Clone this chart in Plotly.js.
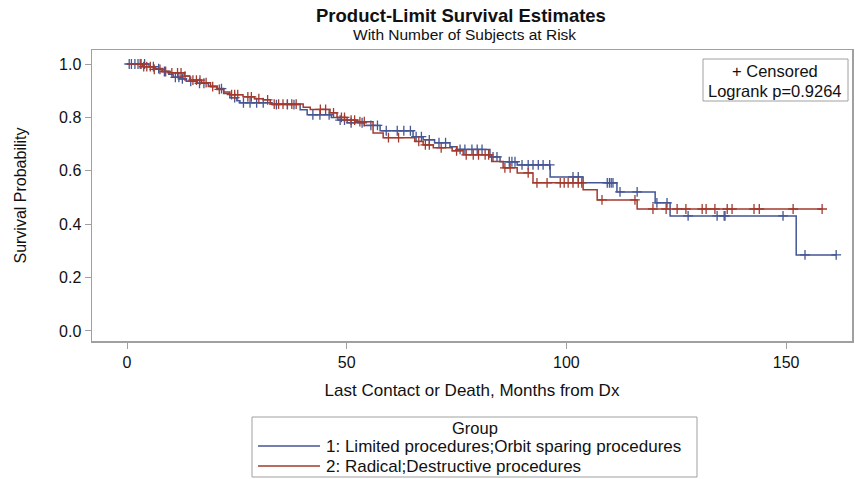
<!DOCTYPE html>
<html>
<head>
<meta charset="utf-8">
<script src="https://cdn.plot.ly/plotly-3.0.1.min.js"></script>
<style>
html,body{margin:0;padding:0;background:#fff;}
#chart{width:855px;height:479px;}
</style>
</head>
<body>
<div id="chart"></div>
<script>
// Group 1: Limited procedures;Orbit sparing procedures
const group1Times = [0, 5.0, 6.5, 8.0, 9.5, 10.5, 12.0, 13.5, 16.0, 18.5, 20.5, 22.0, 23.4, 25.0, 25.7, 33.0, 39.4, 41.0, 46.5, 48.0, 50.1, 54.0, 57.6, 65.1, 67.4, 70.0, 73.5, 75.1, 82.6, 84.9, 88.8, 96.3, 103.8, 111.5, 120.2, 123.6, 152.3];
const group1Surv  = [1.0, 0.99, 0.983, 0.972, 0.962, 0.95, 0.944, 0.935, 0.928, 0.918, 0.908, 0.89, 0.874, 0.862, 0.855, 0.848, 0.829, 0.81, 0.80, 0.79, 0.78, 0.77, 0.75, 0.728, 0.716, 0.705, 0.69, 0.68, 0.652, 0.634, 0.622, 0.577, 0.555, 0.521, 0.48, 0.431, 0.285];
const group1Censored = [0.5, 1.0, 1.8, 2.5, 3.2, 4.0, 6.0, 7.2, 8.5, 11.0, 11.8, 12.6, 14.5, 16.5, 17.5, 21.5, 24.5, 26.5, 28.0, 29.5, 31.0, 34.0, 36.5, 38.0, 42.3, 43.9, 46.0, 48.5, 49.5, 51.0, 53.5, 55.5, 57.0, 59.0, 61.5, 63.0, 64.5, 65.8, 67.0, 68.8, 71.0, 72.5, 75.8, 76.9, 78.5, 79.7, 80.8, 83.3, 84.2, 87.0, 87.6, 88.3, 89.9, 91.3, 92.4, 93.6, 94.7, 96.2, 101.5, 102.7, 109.3, 109.8, 110.2, 110.6, 112.2, 116.1, 120.6, 122.9, 127.7, 134.3, 135.9, 136.1, 149.3, 154.3, 161.4];

// Group 2: Radical;Destructive procedures
const group2Times = [0, 3.5, 6.0, 8.0, 9.8, 13.0, 14.3, 17.0, 19.0, 20.5, 22.0, 23.4, 26.4, 29.0, 31.0, 32.6, 40.1, 41.7, 46.2, 47.8, 50.1, 52.4, 56.0, 58.3, 65.5, 67.4, 69.7, 74.0, 76.5, 83.0, 85.6, 88.8, 92.4, 103.8, 107.0, 116.1];
const group2Surv  = [1.0, 0.99, 0.98, 0.972, 0.967, 0.955, 0.94, 0.93, 0.915, 0.905, 0.895, 0.885, 0.877, 0.87, 0.866, 0.85, 0.838, 0.83, 0.817, 0.80, 0.79, 0.784, 0.742, 0.724, 0.71, 0.697, 0.686, 0.675, 0.66, 0.635, 0.611, 0.592, 0.555, 0.529, 0.491, 0.457];
const group2Censored = [3.0, 3.8, 4.5, 5.3, 6.2, 7.5, 8.8, 10.2, 11.5, 12.3, 13.2, 15.0, 15.8, 16.6, 18.0, 19.5, 21.0, 23.8, 24.5, 25.2, 27.5, 28.3, 30.0, 32.0, 33.5, 34.5, 35.5, 36.5, 37.5, 38.5, 44.0, 45.2, 47.0, 48.8, 49.5, 51.0, 51.8, 53.0, 54.0, 59.5, 61.8, 66.4, 67.9, 68.8, 71.5, 75.0, 77.2, 78.8, 80.0, 81.5, 82.3, 86.0, 87.2, 91.3, 93.3, 95.6, 98.6, 99.5, 100.4, 101.5, 102.7, 103.5, 108.1, 115.6, 119.7, 122.7, 125.2, 127.2, 130.9, 131.8, 133.8, 136.6, 137.7, 142.7, 143.9, 151.6, 158.2];

const groupNames = ["1: Limited procedures;Orbit sparing procedures", "2: Radical;Destructive procedures"];
const groupColors = ["#445694", "#A23A2E"];
const yTicks = [0.0, 0.2, 0.4, 0.6, 0.8, 1.0];
const xTicks = [0, 50, 100, 150];

function survAt(times, surv, t) {
  let s = 1;
  for (let i = 0; i < times.length; i++) { if (times[i] <= t) s = surv[i]; }
  return s;
}
function curve(times, surv, cens, name, color) {
  const last = cens[cens.length - 1];
  const xs = times.slice(), ys = surv.slice();
  if (last > xs[xs.length - 1]) { xs.push(last); ys.push(ys[ys.length - 1]); }
  return [
    {x: xs, y: ys, type: 'scatter', mode: 'lines', line: {shape: 'hv', color: color, width: 1.5},
     name: name, showlegend: false, hoverinfo: 'skip'},
    {x: cens, y: cens.map(t => survAt(times, surv, t)), type: 'scatter', mode: 'markers',
     marker: {symbol: 'cross-thin-open', size: 7, color: color, line: {color: color, width: 1.3}},
     name: name + ' censored', showlegend: false, hoverinfo: 'skip'}
  ];
}
const data = [].concat(
  curve(group1Times, group1Surv, group1Censored, groupNames[0], groupColors[0]),
  curve(group2Times, group2Surv, group2Censored, groupNames[1], groupColors[1])
);

const fnt = 'Liberation Sans, Arial, sans-serif';
const frame = '#A0A0A0';
const ink = '#111';
// paper coordinates: plot area x 92..852, y 50..341
const px = v => (v - 92) / 760;
const py = v => (341 - v) / 291;

const layout = {
  width: 855, height: 479,
  margin: {l: 92, r: 3, t: 50, b: 138},
  paper_bgcolor: '#fff', plot_bgcolor: '#fff',
  font: {family: fnt, size: 16, color: ink},
  showlegend: false,
  xaxis: {
    range: [-7.97, 165.0], tickvals: xTicks, ticktext: xTicks.map(String),
    ticks: 'outside', ticklen: 6, tickcolor: frame, showgrid: false, zeroline: false,
    showline: true, linecolor: frame, linewidth: 1.5, mirror: true,
    tickfont: {family: fnt, size: 16, color: ink},
    title: {text: 'Last Contact or Death, Months from Dx', font: {family: fnt, size: 17, color: ink}, standoff: 14}
  },
  yaxis: {
    range: [-0.0375, 1.0525], tickvals: yTicks, ticktext: yTicks.map(v => v.toFixed(1)),
    ticks: 'outside', ticklen: 6, tickcolor: frame, showgrid: false, zeroline: false,
    showline: true, linecolor: frame, linewidth: 1.5, mirror: true,
    tickfont: {family: fnt, size: 16, color: ink},
    title: {text: 'Survival Probability', font: {family: fnt, size: 16, color: ink}, standoff: 28}
  },
  shapes: [
    {type: 'rect', xref: 'paper', yref: 'paper', x0: px(703), x1: px(848), y0: py(101), y1: py(59),
     line: {color: frame, width: 1}, fillcolor: 'rgba(0,0,0,0)'},
    {type: 'rect', xref: 'paper', yref: 'paper', x0: px(252), x1: px(697), y0: py(477), y1: py(417),
     line: {color: frame, width: 1}, fillcolor: 'rgba(0,0,0,0)'},
    {type: 'line', xref: 'paper', yref: 'paper', x0: px(258), x1: px(320), y0: py(446), y1: py(446),
     line: {color: groupColors[0], width: 1.5}},
    {type: 'line', xref: 'paper', yref: 'paper', x0: px(258), x1: px(320), y0: py(466), y1: py(466),
     line: {color: groupColors[1], width: 1.5}}
  ],
  annotations: [
    {text: '<b>Product-Limit Survival Estimates</b>', xref: 'paper', yref: 'paper', x: px(461), y: py(16),
     showarrow: false, xanchor: 'center', yanchor: 'middle', font: {family: fnt, size: 18.5, color: ink}},
    {text: 'With Number of Subjects at Risk', xref: 'paper', yref: 'paper', x: px(464), y: py(35),
     showarrow: false, xanchor: 'center', yanchor: 'middle', font: {family: fnt, size: 15.5, color: ink}},
    {text: '+ Censored', xref: 'paper', yref: 'paper', x: px(775), y: py(71),
     showarrow: false, xanchor: 'center', yanchor: 'middle', font: {family: fnt, size: 16.5, color: ink}},
    {text: 'Logrank p=0.9264', xref: 'paper', yref: 'paper', x: px(775), y: py(91),
     showarrow: false, xanchor: 'center', yanchor: 'middle', font: {family: fnt, size: 16.5, color: ink}},
    {text: 'Group', xref: 'paper', yref: 'paper', x: px(475), y: py(428),
     showarrow: false, xanchor: 'center', yanchor: 'middle', font: {family: fnt, size: 16.5, color: ink}},
    {text: groupNames[0], xref: 'paper', yref: 'paper', x: px(324), y: py(446),
     showarrow: false, xanchor: 'left', yanchor: 'middle', font: {family: fnt, size: 17, color: ink}},
    {text: groupNames[1], xref: 'paper', yref: 'paper', x: px(324), y: py(466),
     showarrow: false, xanchor: 'left', yanchor: 'middle', font: {family: fnt, size: 17, color: ink}}
  ]
};

Plotly.newPlot('chart', data, layout, {displayModeBar: false, staticPlot: true});
</script>
</body>
</html>
